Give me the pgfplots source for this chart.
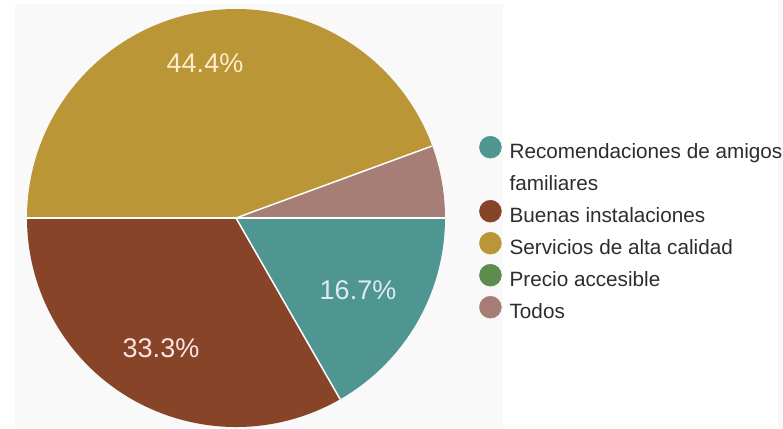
\documentclass[border=0pt]{standalone}
\usepackage{pgfplots}
\pgfplotsset{compat=1.18}
\usepackage{pgfplotstable}
\usepackage{fontspec}
\setmainfont{Liberation Sans}
\definecolor{cteal}{RGB}{79,150,146}
\definecolor{cbrown}{RGB}{136,68,40}
\definecolor{cgold}{RGB}{187,150,54}
\definecolor{cgreen}{RGB}{94,140,78}
\definecolor{cmauve}{RGB}{166,126,118}
\definecolor{bggray}{RGB}{249,249,249}
\definecolor{legtext}{RGB}{45,45,45}
\pgfplotstableread[col sep=comma]{
value,color
16.7,cteal
33.3,cbrown
44.4,cgold
0,cgreen
5.6,cmauve
}\piedata
\begin{document}
\begin{tikzpicture}
\useasboundingbox (0,0) rectangle (783pt,428pt);
\clip (0,0) rectangle (783pt,428pt);
\fill[white] (0,0) rectangle (783pt,428pt);
\fill[bggray] (15pt,0) rectangle (503pt,424pt);
\fill[bggray] (778pt,0) rectangle (783pt,428pt);
\begin{axis}[
  at={(0pt,0pt)}, anchor=south west,
  x=1pt, y=1pt, xmin=0, xmax=783, ymin=0, ymax=428,
  hide axis, clip=false,
  legend style={draw=none, fill=none, inner sep=0pt,
    at={(0.61175,0.68341)}, anchor=north west,
    row sep=4pt, column sep=8pt,
    font=\fontsize{20.7}{25}\selectfont, text=legtext,
    nodes={inner sep=0pt, text height=23pt, text depth=5pt, anchor=base west},
    cells={anchor=base west}},
  legend image code/.code={\fill (11pt,11.5pt) circle[radius=11pt];},
]
\pgfplotsextra{%
  \pgfplotstablegetrowsof{\piedata}%
  \pgfmathtruncatemacro\lastrow{\pgfplotsretval-1}%
  \gdef\cum{0}%
  \foreach \ri in {0,...,\lastrow}{%
    \pgfplotstablegetelem{\ri}{value}\of\piedata \let\sv\pgfplotsretval
    \pgfplotstablegetelem{\ri}{color}\of\piedata \let\scol\pgfplotsretval
    \pgfmathsetmacro\aS{-3.6*\cum}%
    \pgfmathsetmacro\aE{-3.6*(\cum+\sv)}%
    \ifdim\sv pt>0pt
      \fill[\scol] (axis cs:236,210) -- ++(\aS:209pt) arc[start angle=\aS, end angle=\aE, radius=209pt] -- cycle;
    \fi
    \pgfmathsetmacro\newcum{\cum+\sv}\global\let\cum\newcum
  }%
  \gdef\cum{0}%
  \foreach \ri in {0,...,\lastrow}{%
    \pgfplotstablegetelem{\ri}{value}\of\piedata \let\sv\pgfplotsretval
    \pgfmathsetmacro\aS{-3.6*\cum}%
    \ifdim\sv pt>0pt
      \draw[white, line width=1.5pt] (axis cs:236,210) -- ++(\aS:209pt);
    \fi
    \pgfmathsetmacro\newcum{\cum+\sv}\global\let\cum\newcum
  }%
}
\node[text={rgb,255:red,252;green,238;blue,205}, font=\fontsize{27}{30}\selectfont] at (axis cs:205,365) {44.4\%};
\node[text={rgb,255:red,250;green,228;blue,228}, font=\fontsize{27}{30}\selectfont] at (axis cs:161,80) {33.3\%};
\node[text={rgb,255:red,222;green,232;blue,250}, font=\fontsize{27}{30}\selectfont] at (axis cs:358,138) {16.7\%};
\addlegendimage{cteal}\addlegendentry{Recomendaciones de amigos}
\addlegendimage{empty legend}\addlegendentry{familiares}
\addlegendimage{cbrown}\addlegendentry{Buenas instalaciones}
\addlegendimage{cgold}\addlegendentry{Servicios de alta calidad}
\addlegendimage{cgreen}\addlegendentry{Precio accesible}
\addlegendimage{cmauve}\addlegendentry{Todos}
\end{axis}
\end{tikzpicture}
\end{document}
